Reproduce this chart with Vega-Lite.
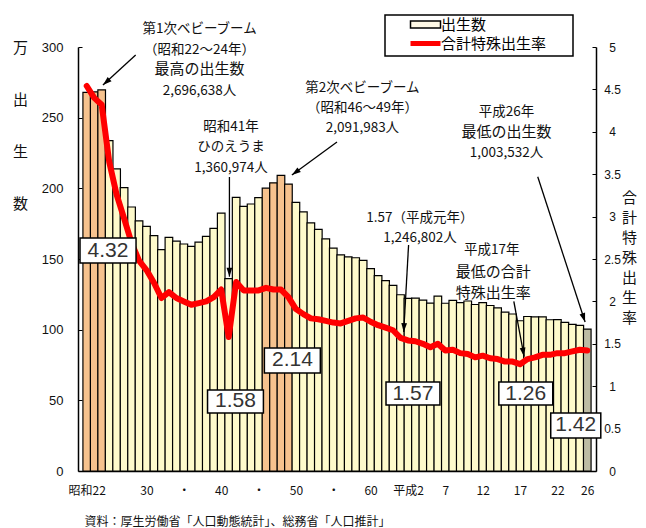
{
  "$schema": "https://vega.github.io/schema/vega-lite/v6.json",
  "width": 518,
  "height": 424,
  "autosize": {"type": "none"},
  "padding": {"left": 78, "top": 47, "right": 50, "bottom": 57},
  "background": "white",
  "config": {
    "view": {"stroke": null},
    "font": "Noto Sans CJK JP",
    "axis": {"grid": false, "domainColor": "#000", "domainWidth": 1.5, "tickColor": "#000", "labelColor": "#111", "titleColor": "#111", "titleFontWeight": "normal"}
  },
  "datasets": {
    "births": [
      {"year": 1947, "births": 267.9, "tfr": 4.54, "period": "boom"},
      {"year": 1948, "births": 268.2, "tfr": 4.40, "period": "boom"},
      {"year": 1949, "births": 269.7, "tfr": 4.32, "period": "boom"},
      {"year": 1950, "births": 233.8, "tfr": 3.65, "period": "normal"},
      {"year": 1951, "births": 213.8, "tfr": 3.26, "period": "normal"},
      {"year": 1952, "births": 200.5, "tfr": 2.98, "period": "normal"},
      {"year": 1953, "births": 186.8, "tfr": 2.69, "period": "normal"},
      {"year": 1954, "births": 177.0, "tfr": 2.48, "period": "normal"},
      {"year": 1955, "births": 173.1, "tfr": 2.37, "period": "normal"},
      {"year": 1956, "births": 166.5, "tfr": 2.22, "period": "normal"},
      {"year": 1957, "births": 156.7, "tfr": 2.04, "period": "normal"},
      {"year": 1958, "births": 165.3, "tfr": 2.11, "period": "normal"},
      {"year": 1959, "births": 162.6, "tfr": 2.04, "period": "normal"},
      {"year": 1960, "births": 160.6, "tfr": 2.00, "period": "normal"},
      {"year": 1961, "births": 158.9, "tfr": 1.96, "period": "normal"},
      {"year": 1962, "births": 161.9, "tfr": 1.98, "period": "normal"},
      {"year": 1963, "births": 166.0, "tfr": 2.00, "period": "normal"},
      {"year": 1964, "births": 171.7, "tfr": 2.05, "period": "normal"},
      {"year": 1965, "births": 182.4, "tfr": 2.14, "period": "normal"},
      {"year": 1966, "births": 136.1, "tfr": 1.58, "period": "normal"},
      {"year": 1967, "births": 193.6, "tfr": 2.23, "period": "normal"},
      {"year": 1968, "births": 187.2, "tfr": 2.13, "period": "normal"},
      {"year": 1969, "births": 188.9, "tfr": 2.13, "period": "normal"},
      {"year": 1970, "births": 193.4, "tfr": 2.13, "period": "normal"},
      {"year": 1971, "births": 200.1, "tfr": 2.16, "period": "boom"},
      {"year": 1972, "births": 203.9, "tfr": 2.14, "period": "boom"},
      {"year": 1973, "births": 209.2, "tfr": 2.14, "period": "boom"},
      {"year": 1974, "births": 203.0, "tfr": 2.05, "period": "boom"},
      {"year": 1975, "births": 190.1, "tfr": 1.91, "period": "normal"},
      {"year": 1976, "births": 183.3, "tfr": 1.85, "period": "normal"},
      {"year": 1977, "births": 175.5, "tfr": 1.80, "period": "normal"},
      {"year": 1978, "births": 170.9, "tfr": 1.79, "period": "normal"},
      {"year": 1979, "births": 164.3, "tfr": 1.77, "period": "normal"},
      {"year": 1980, "births": 157.7, "tfr": 1.75, "period": "normal"},
      {"year": 1981, "births": 152.9, "tfr": 1.74, "period": "normal"},
      {"year": 1982, "births": 151.5, "tfr": 1.77, "period": "normal"},
      {"year": 1983, "births": 150.9, "tfr": 1.80, "period": "normal"},
      {"year": 1984, "births": 149.0, "tfr": 1.81, "period": "normal"},
      {"year": 1985, "births": 143.2, "tfr": 1.76, "period": "normal"},
      {"year": 1986, "births": 138.3, "tfr": 1.72, "period": "normal"},
      {"year": 1987, "births": 134.7, "tfr": 1.69, "period": "normal"},
      {"year": 1988, "births": 131.4, "tfr": 1.66, "period": "normal"},
      {"year": 1989, "births": 124.7, "tfr": 1.57, "period": "normal"},
      {"year": 1990, "births": 122.2, "tfr": 1.54, "period": "normal"},
      {"year": 1991, "births": 122.3, "tfr": 1.53, "period": "normal"},
      {"year": 1992, "births": 120.9, "tfr": 1.50, "period": "normal"},
      {"year": 1993, "births": 118.8, "tfr": 1.46, "period": "normal"},
      {"year": 1994, "births": 123.8, "tfr": 1.50, "period": "normal"},
      {"year": 1995, "births": 118.7, "tfr": 1.42, "period": "normal"},
      {"year": 1996, "births": 120.7, "tfr": 1.43, "period": "normal"},
      {"year": 1997, "births": 119.2, "tfr": 1.39, "period": "normal"},
      {"year": 1998, "births": 120.3, "tfr": 1.38, "period": "normal"},
      {"year": 1999, "births": 117.8, "tfr": 1.34, "period": "normal"},
      {"year": 2000, "births": 119.1, "tfr": 1.36, "period": "normal"},
      {"year": 2001, "births": 117.1, "tfr": 1.33, "period": "normal"},
      {"year": 2002, "births": 115.4, "tfr": 1.32, "period": "normal"},
      {"year": 2003, "births": 112.4, "tfr": 1.29, "period": "normal"},
      {"year": 2004, "births": 111.1, "tfr": 1.29, "period": "normal"},
      {"year": 2005, "births": 106.3, "tfr": 1.26, "period": "normal"},
      {"year": 2006, "births": 109.3, "tfr": 1.32, "period": "normal"},
      {"year": 2007, "births": 109.0, "tfr": 1.34, "period": "normal"},
      {"year": 2008, "births": 109.1, "tfr": 1.37, "period": "normal"},
      {"year": 2009, "births": 107.0, "tfr": 1.37, "period": "normal"},
      {"year": 2010, "births": 107.1, "tfr": 1.39, "period": "normal"},
      {"year": 2011, "births": 105.1, "tfr": 1.39, "period": "normal"},
      {"year": 2012, "births": 103.7, "tfr": 1.41, "period": "normal"},
      {"year": 2013, "births": 103.0, "tfr": 1.43, "period": "normal"},
      {"year": 2014, "births": 100.4, "tfr": 1.42, "period": "latest"}
    ],
    "boxes": [
      {"label": "4.32", "x1": 1946.1, "x2": 1953.6, "y1": 147.2, "y2": 164.9, "xc": 1949.85, "yc": 156.0},
      {"label": "1.58", "x1": 1963.17, "x2": 1970.65, "y1": 41.0, "y2": 57.3, "xc": 1966.91, "yc": 49.2},
      {"label": "2.14", "x1": 1970.78, "x2": 1978.27, "y1": 69.3, "y2": 87.0, "xc": 1974.53, "yc": 78.2},
      {"label": "1.57", "x1": 1987.06, "x2": 1994.28, "y1": 46.7, "y2": 63.0, "xc": 1990.67, "yc": 54.8},
      {"label": "1.26", "x1": 2002.16, "x2": 2009.38, "y1": 46.7, "y2": 63.0, "xc": 2005.77, "yc": 54.8},
      {"label": "1.42", "x1": 2009.11, "x2": 2015.81, "y1": 23.3, "y2": 41.0, "xc": 2012.46, "yc": 32.2}
    ],
    "notesSmall": [
      {"text": "第1次ベビーブーム", "x": 1962.1, "y": 312.4},
      {"text": "（昭和22～24年）", "x": 1962.1, "y": 298.2},
      {"text": "2,696,638人", "x": 1962.1, "y": 269.2},
      {"text": "昭和41年", "x": 1966.3, "y": 243.4},
      {"text": "ひのえうま", "x": 1966.3, "y": 229.2},
      {"text": "1,360,974人", "x": 1966.3, "y": 214.4},
      {"text": "第2次ベビーブーム", "x": 1983.9, "y": 271.0},
      {"text": "（昭和46～49年）", "x": 1983.9, "y": 256.8},
      {"text": "2,091,983人", "x": 1983.9, "y": 242.7},
      {"text": "平成26年", "x": 2003.2, "y": 254.0},
      {"text": "1,003,532人", "x": 2003.2, "y": 225.2},
      {"text": "1.57（平成元年）", "x": 1991.6, "y": 179.0},
      {"text": "1,246,802人", "x": 1991.6, "y": 164.9},
      {"text": "平成17年", "x": 2001.2, "y": 156.4}
    ],
    "notesBig": [
      {"text": "最高の出生数", "x": 1962.1, "y": 284.1},
      {"text": "最低の出生数", "x": 2003.2, "y": 239.9},
      {"text": "最低の合計", "x": 2001.4, "y": 140.8},
      {"text": "特殊出生率", "x": 2001.4, "y": 126.2}
    ],
    "arrows": [
      {"id": 1, "x": 1953.55, "y": 294.3, "x2": 1949.17, "y2": 273.1},
      {"id": 2, "x": 1966.1, "y": 208.0, "x2": 1966.1, "y2": 137.5},
      {"id": 3, "x": 1980.5, "y": 232.8, "x2": 1974.46, "y2": 209.4},
      {"id": 4, "x": 1990.08, "y": 159.9, "x2": 1989.43, "y2": 98.3},
      {"id": 5, "x": 2004.17, "y": 120.0, "x2": 2005.55, "y2": 80.9},
      {"id": 6, "x": 2007.37, "y": 208.2, "x2": 2013.71, "y2": 105.4}
    ]
  },
  "resolve": {"scale": {"y": "independent"}, "axis": {"x": "independent"}},
  "layer": [
    {
      "data": {"name": "births"},
      "mark": {"type": "bar", "orient": "vertical", "width": 7.62, "strokeWidth": 1.2},
      "encoding": {
        "x": {
          "field": "year", "type": "quantitative",
          "scale": {"domain": [1946.5, 2014.5], "nice": false, "zero": false},
          "axis": {
            "values": [1947, 1955, 1960, 1965, 1970, 1975, 1980, 1985, 1990, 1995, 2000, 2005, 2010, 2014],
            "labelExpr": "datum.value == 1947 ? '昭和22' : datum.value == 1990 ? '平成2' : datum.value < 1990 ? (datum.value % 10 == 0 ? '・' : '' + (datum.value - 1925)) : '' + (datum.value - 1988)",
            "ticks": false, "labelPadding": 14, "labelFontSize": 12, "labelOverlap": false, "labelFlush": false, "labelBound": false,
            "title": "資料：厚生労働省「人口動態統計」、総務省「人口推計」",
            "titleAlign": "left", "titleX": 6, "titleY": 50, "titleBaseline": "middle", "titleFontSize": 12
          }
        },
        "y": {
          "field": "births", "type": "quantitative",
          "scale": {"domain": [0, 300], "nice": false},
          "axis": {
            "orient": "left", "values": [0, 50, 100, 150, 200, 250, 300],
            "tickSize": -4, "labelPadding": 19, "labelFontSize": 13, "labelFont": "Liberation Sans",
            "title": ["万", "", "", "出", "生", "数"], "titleAngle": 0, "titleX": -58, "titleY": -7,
            "titleAlign": "center", "titleBaseline": "top", "titleLineHeight": 52, "titleFontSize": 15
          }
        },
        "fill": {
          "field": "period", "type": "nominal",
          "scale": {"domain": ["boom", "normal", "latest"], "range": ["#F6C28E", "#FEFACB", "#BDBCA3"]},
          "legend": null
        },
        "stroke": {
          "datum": "出生数", "type": "nominal",
          "scale": {"domain": ["出生数", "合計特殊出生率"], "range": ["#000000", "#FF0000"]},
          "legend": {
            "orient": "none", "legendX": 307, "legendY": -32, "direction": "vertical",
            "title": "あ", "titleOrient": "right", "titleAngle": 0, "titleColor": "transparent", "titleFontSize": 18, "titlePadding": 7,
            "padding": 2, "rowPadding": 0, "symbolSize": 400, "symbolOffset": 31, "labelOffset": 8,
            "labelFontSize": 15, "labelColor": "#000", "strokeColor": "#000", "fillColor": "#fff",
            "encode": {
              "legend": {"update": {"strokeWidth": {"value": 1.5}}},
              "symbols": {"update": {
                "shape": {"signal": "datum.value === '出生数' ? 'M-1.5,-0.35H1.5V0.35H-1.5Z' : 'M-1.5,0H1.5'"},
                "fill": {"signal": "datum.value === '出生数' ? '#FFF9E6' : 'transparent'"},
                "stroke": {"signal": "datum.value === '出生数' ? '#000000' : '#FF0000'"},
                "strokeWidth": {"signal": "datum.value === '出生数' ? 1.5 : 5"},
                "opacity": {"value": 1}
              }}
            }
          }
        }
      }
    },
    {
      "data": {"name": "births"},
      "mark": {"type": "line", "strokeWidth": 6, "strokeCap": "round", "strokeJoin": "round"},
      "encoding": {
        "x": {"field": "year", "type": "quantitative", "scale": {"domain": [1946.5, 2014.5], "nice": false, "zero": false}, "axis": null},
        "y": {
          "field": "tfr", "type": "quantitative",
          "scale": {"domain": [0, 5], "nice": false},
          "axis": {
            "orient": "right", "values": [0, 0.5, 1, 1.5, 2, 2.5, 3, 3.5, 4, 4.5, 5], "format": "~g",
            "tickSize": -4, "labelPadding": 20, "labelAlign": "center", "labelFontSize": 12, "labelFont": "Liberation Sans",
            "title": ["合", "計", "特", "殊", "出", "生", "率"], "titleAngle": 0, "titleX": 33, "titleY": 143,
            "titleAlign": "center", "titleBaseline": "top", "titleLineHeight": 20, "titleFontSize": 15
          }
        },
        "stroke": {
          "datum": "合計特殊出生率", "type": "nominal",
          "scale": {"domain": ["出生数", "合計特殊出生率"], "range": ["#000000", "#FF0000"]},
          "legend": {
            "orient": "none", "legendX": 307, "legendY": -32, "direction": "vertical",
            "title": "あ", "titleOrient": "right", "titleAngle": 0, "titleColor": "transparent", "titleFontSize": 18, "titlePadding": 7,
            "padding": 2, "rowPadding": 0, "symbolSize": 400, "symbolOffset": 31, "labelOffset": 8,
            "labelFontSize": 15, "labelColor": "#000", "strokeColor": "#000", "fillColor": "#fff",
            "encode": {
              "legend": {"update": {"strokeWidth": {"value": 1.5}}},
              "symbols": {"update": {
                "shape": {"signal": "datum.value === '出生数' ? 'M-1.5,-0.35H1.5V0.35H-1.5Z' : 'M-1.5,0H1.5'"},
                "fill": {"signal": "datum.value === '出生数' ? '#FFF9E6' : 'transparent'"},
                "stroke": {"signal": "datum.value === '出生数' ? '#000000' : '#FF0000'"},
                "strokeWidth": {"signal": "datum.value === '出生数' ? 1.5 : 5"},
                "opacity": {"value": 1}
              }}
            }
          }
        }
      }
    },
    {
      "layer": [
        {
          "data": {"name": "arrows"},
          "mark": {"type": "rule", "strokeWidth": 1.3, "color": "#000"},
          "encoding": {
            "x": {"field": "x", "type": "quantitative", "scale": {"domain": [1946.5, 2014.5], "nice": false, "zero": false}, "axis": null},
            "y": {"field": "y", "type": "quantitative", "scale": {"domain": [0, 300], "nice": false}, "axis": null},
            "x2": {"field": "x2"},
            "y2": {"field": "y2"}
          }
        },
        {
          "data": {"name": "arrows"}, "transform": [{"filter": "datum.id == 1"}],
          "mark": {"type": "point", "shape": "M0,0L-0.45,1.4L0.45,1.4Z", "size": 164, "filled": true, "color": "#000", "opacity": 1, "angle": 228},
          "encoding": {
            "x": {"field": "x2", "type": "quantitative", "scale": {"domain": [1946.5, 2014.5], "nice": false, "zero": false}, "axis": null},
            "y": {"field": "y2", "type": "quantitative", "scale": {"domain": [0, 300], "nice": false}, "axis": null}
          }
        },
        {
          "data": {"name": "arrows"}, "transform": [{"filter": "datum.id == 2"}],
          "mark": {"type": "point", "shape": "M0,0L-0.45,1.4L0.45,1.4Z", "size": 164, "filled": true, "color": "#000", "opacity": 1, "angle": 180},
          "encoding": {
            "x": {"field": "x2", "type": "quantitative", "scale": {"domain": [1946.5, 2014.5], "nice": false, "zero": false}, "axis": null},
            "y": {"field": "y2", "type": "quantitative", "scale": {"domain": [0, 300], "nice": false}, "axis": null}
          }
        },
        {
          "data": {"name": "arrows"}, "transform": [{"filter": "datum.id == 3"}],
          "mark": {"type": "point", "shape": "M0,0L-0.45,1.4L0.45,1.4Z", "size": 164, "filled": true, "color": "#000", "opacity": 1, "angle": 234},
          "encoding": {
            "x": {"field": "x2", "type": "quantitative", "scale": {"domain": [1946.5, 2014.5], "nice": false, "zero": false}, "axis": null},
            "y": {"field": "y2", "type": "quantitative", "scale": {"domain": [0, 300], "nice": false}, "axis": null}
          }
        },
        {
          "data": {"name": "arrows"}, "transform": [{"filter": "datum.id == 4"}],
          "mark": {"type": "point", "shape": "M0,0L-0.45,1.4L0.45,1.4Z", "size": 164, "filled": true, "color": "#000", "opacity": 1, "angle": 183},
          "encoding": {
            "x": {"field": "x2", "type": "quantitative", "scale": {"domain": [1946.5, 2014.5], "nice": false, "zero": false}, "axis": null},
            "y": {"field": "y2", "type": "quantitative", "scale": {"domain": [0, 300], "nice": false}, "axis": null}
          }
        },
        {
          "data": {"name": "arrows"}, "transform": [{"filter": "datum.id == 5"}],
          "mark": {"type": "point", "shape": "M0,0L-0.45,1.4L0.45,1.4Z", "size": 164, "filled": true, "color": "#000", "opacity": 1, "angle": 170},
          "encoding": {
            "x": {"field": "x2", "type": "quantitative", "scale": {"domain": [1946.5, 2014.5], "nice": false, "zero": false}, "axis": null},
            "y": {"field": "y2", "type": "quantitative", "scale": {"domain": [0, 300], "nice": false}, "axis": null}
          }
        },
        {
          "data": {"name": "arrows"}, "transform": [{"filter": "datum.id == 6"}],
          "mark": {"type": "point", "shape": "M0,0L-0.45,1.4L0.45,1.4Z", "size": 164, "filled": true, "color": "#000", "opacity": 1, "angle": 162},
          "encoding": {
            "x": {"field": "x2", "type": "quantitative", "scale": {"domain": [1946.5, 2014.5], "nice": false, "zero": false}, "axis": null},
            "y": {"field": "y2", "type": "quantitative", "scale": {"domain": [0, 300], "nice": false}, "axis": null}
          }
        },
        {
          "data": {"name": "boxes"},
          "mark": {"type": "rect", "fill": "#fff", "stroke": "#000", "strokeWidth": 1.5},
          "encoding": {
            "x": {"field": "x1", "type": "quantitative", "scale": {"domain": [1946.5, 2014.5], "nice": false, "zero": false}, "axis": null},
            "x2": {"field": "x2"},
            "y": {"field": "y1", "type": "quantitative", "scale": {"domain": [0, 300], "nice": false}, "axis": null},
            "y2": {"field": "y2"}
          }
        },
        {
          "data": {"name": "boxes"},
          "mark": {"type": "text", "font": "Liberation Sans", "fontSize": 21, "color": "#333", "align": "center", "baseline": "middle"},
          "encoding": {
            "x": {"field": "xc", "type": "quantitative", "scale": {"domain": [1946.5, 2014.5], "nice": false, "zero": false}, "axis": null},
            "y": {"field": "yc", "type": "quantitative", "scale": {"domain": [0, 300], "nice": false}, "axis": null},
            "text": {"field": "label"}
          }
        },
        {
          "data": {"name": "notesSmall"},
          "mark": {"type": "text", "fontSize": 13.5, "color": "#111", "align": "center", "baseline": "middle"},
          "encoding": {
            "x": {"field": "x", "type": "quantitative", "scale": {"domain": [1946.5, 2014.5], "nice": false, "zero": false}, "axis": null},
            "y": {"field": "y", "type": "quantitative", "scale": {"domain": [0, 300], "nice": false}, "axis": null},
            "text": {"field": "text"}
          }
        },
        {
          "data": {"name": "notesBig"},
          "mark": {"type": "text", "fontSize": 15, "color": "#111", "align": "center", "baseline": "middle"},
          "encoding": {
            "x": {"field": "x", "type": "quantitative", "scale": {"domain": [1946.5, 2014.5], "nice": false, "zero": false}, "axis": null},
            "y": {"field": "y", "type": "quantitative", "scale": {"domain": [0, 300], "nice": false}, "axis": null},
            "text": {"field": "text"}
          }
        }
      ]
    }
  ]
}
